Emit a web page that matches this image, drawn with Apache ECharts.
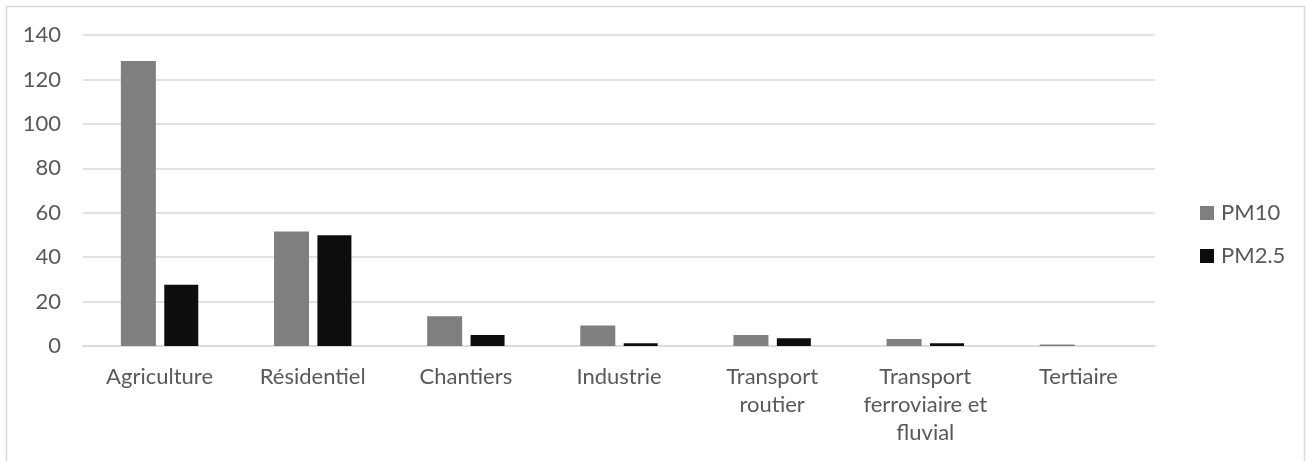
<!DOCTYPE html>
<html>
<head>
<meta charset="utf-8">
<script src="https://cdn.jsdelivr.net/npm/echarts@6/dist/echarts.min.js"></script>
<style>
  html, body { margin: 0; padding: 0; background: #fff; }
  #chart { width: 1309px; height: 461px; }
</style>
</head>
<body>
<div id="chart"></div>
<script>
var categories = ["Agriculture", "Résidentiel", "Chantiers", "Industrie", "Transport\nroutier", "Transport\nferroviaire et\nfluvial", "Tertiaire"];
var pm10 = [128.3, 51.5, 13.4, 9.2, 5.0, 3.2, 0.7];
var pm25 = [27.6, 49.8, 5.0, 1.2, 3.5, 1.2, 0];
var yTicks = [0, 140, 20]; // min, max, interval

var fontName = "Lato";
var textColor = "#595959";
var gridColor = "#d9d9d9";

var chart = echarts.init(document.getElementById("chart"));
var option = {
    backgroundColor: "#fff",
    animation: false,
    textStyle: { fontFamily: fontName },
    graphic: [{
        type: "rect",
        shape: { x: 6.5, y: 6.5, width: 1298, height: 480 },
        style: { fill: "none", stroke: gridColor, lineWidth: 1.5 }
    }],
    grid: { left: 83, right: 154, top: 35, bottom: 115 },
    legend: {
        orient: "vertical",
        left: 1195,
        top: 197,
        itemWidth: 14,
        itemHeight: 14,
        itemGap: 21,
        icon: "rect",
        textStyle: { color: textColor, fontSize: 22, fontFamily: fontName, padding: [0, 0, 0, 2] },
        data: ["PM10", "PM2.5"]
    },
    xAxis: {
        type: "category",
        data: categories,
        axisLine: { lineStyle: { color: gridColor, width: 1.5 } },
        axisTick: { show: false },
        axisLabel: { color: textColor, fontSize: 22, lineHeight: 28, margin: 17, interval: 0 }
    },
    yAxis: {
        type: "value",
        min: yTicks[0],
        max: yTicks[1],
        interval: yTicks[2],
        axisLine: { show: false },
        axisTick: { show: false },
        axisLabel: { color: textColor, fontSize: 22, margin: 22 },
        splitLine: { lineStyle: { color: gridColor, width: 1.5 } }
    },
    series: [
        {
            name: "PM10",
            type: "bar",
            data: pm10,
            barWidth: 35,
            barGap: "24%",
            itemStyle: { color: "#7f7f7f" }
        },
        {
            name: "PM2.5",
            type: "bar",
            data: pm25,
            barWidth: 34,
            itemStyle: { color: "#0d0d0d" }
        }
    ]
};
chart.setOption(option);
</script>
</body>
</html>
